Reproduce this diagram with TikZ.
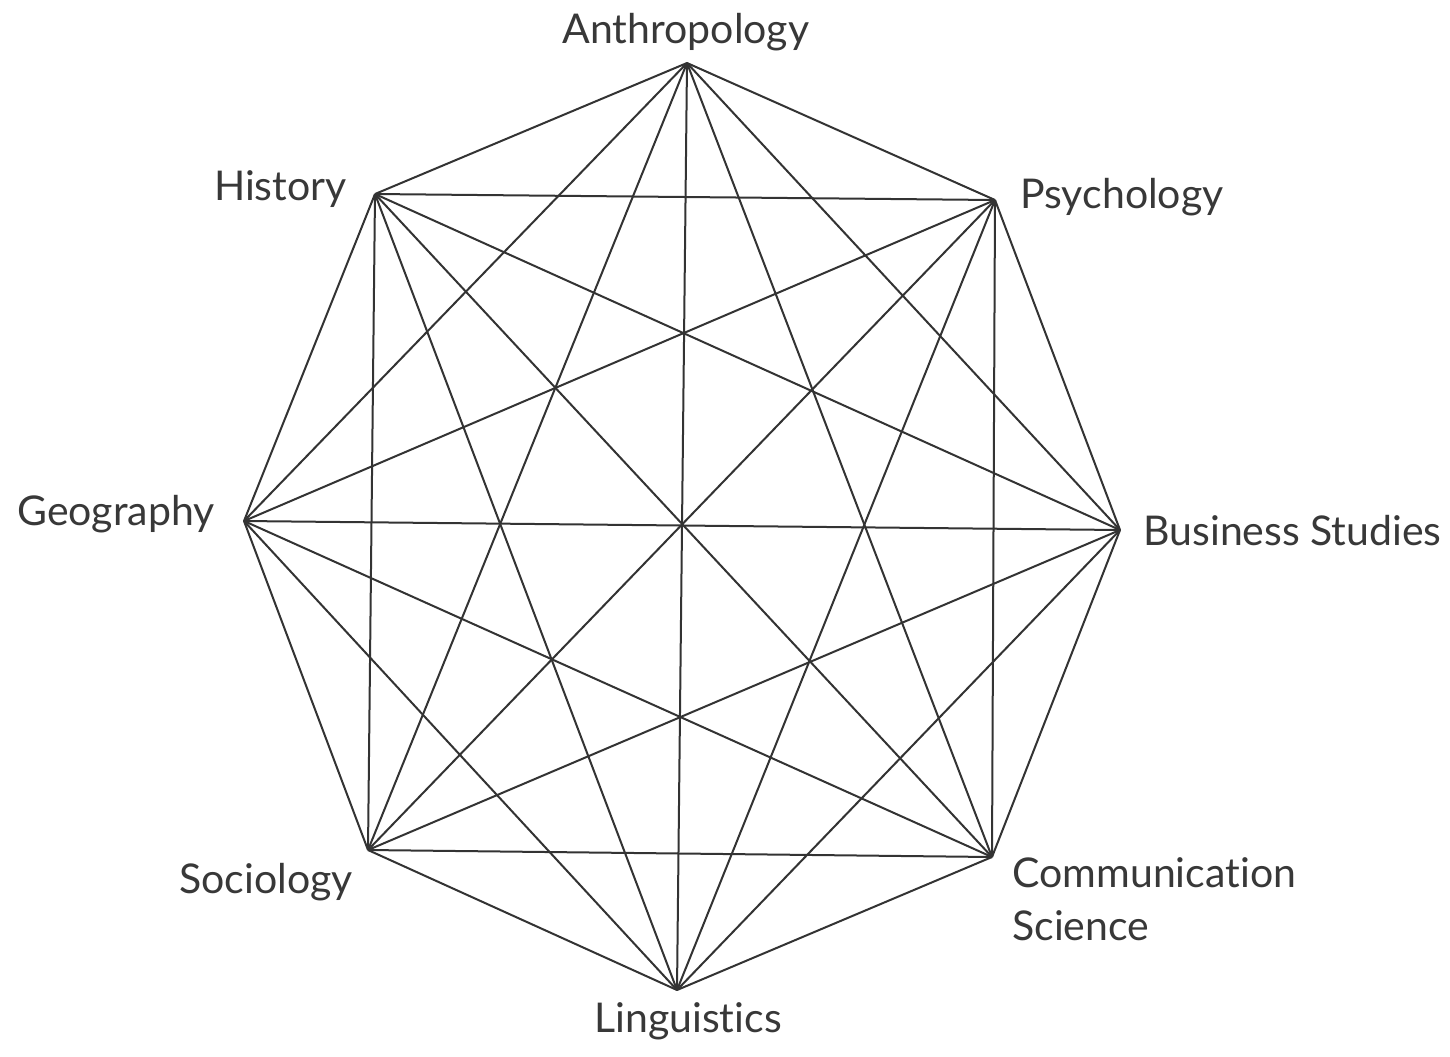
\documentclass[tikz,border=0pt]{standalone}
\usepackage{fontspec}
\setmainfont{Lato}[Ligatures=NoCommon]
\begin{document}
\begin{tikzpicture}[x=0.5pt,y=-0.5pt,
  edge/.style={draw=black!80,line width=1pt},
  lab/.style={inner sep=0pt,text=black!78,font=\fontsize{20.5}{26.5}\selectfont}]
\useasboundingbox[fill=white] (0,0) rectangle (1450,1056);
\coordinate (A) at (687,63);
\coordinate (P) at (995,200);
\coordinate (B) at (1120,530);
\coordinate (C) at (992,857);
\coordinate (L) at (677,990);
\coordinate (S) at (368,850);
\coordinate (G) at (244,521);
\coordinate (H) at (375,194);
\foreach \u/\v in {A/P,A/B,A/C,A/L,A/S,A/G,A/H,
                   P/B,P/C,P/L,P/S,P/G,P/H,
                   B/C,B/L,B/S,B/G,B/H,
                   C/L,C/S,C/G,C/H,
                   L/S,L/G,L/H,
                   S/G,S/H,
                   G/H}
  \draw[edge] (\u) -- (\v);
\node[lab,anchor=base] (tA) at (686,43) {Anthropology};
\node[lab,anchor=base west] (tP) at (1020,208) {Psychology};
\node[lab,anchor=base west] (tB) at (1143,545) {Business Studies};
\node[lab,anchor=base west,align=left] (tC) at (1012,940) {Communication\\Science};
\node[lab,anchor=base] (tL) at (688,1032) {Linguistics};
\node[lab,anchor=base east] (tS) at (353,893) {Sociology};
\node[lab,anchor=base east] (tG) at (215,525) {Geography};
\node[lab,anchor=base east] (tH) at (347,200) {History};
\end{tikzpicture}
\end{document}
